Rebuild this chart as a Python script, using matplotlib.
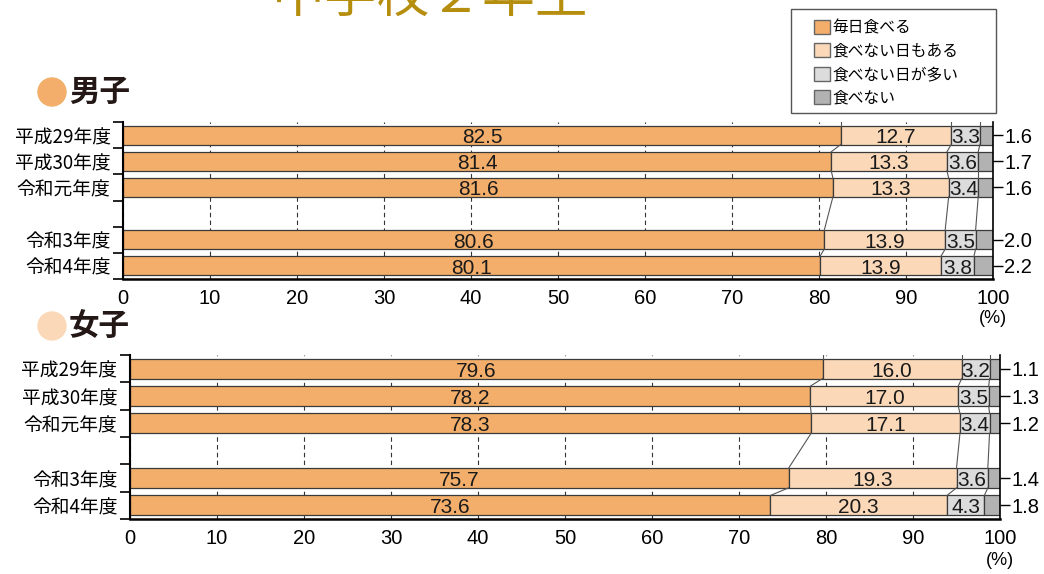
import matplotlib
matplotlib.use('Agg')
import matplotlib.pyplot as plt
from matplotlib.patches import Rectangle, Ellipse, Patch
import numpy as np

plt.rcParams['font.family'] = ['Noto Sans CJK JP', 'DejaVu Sans']

title = '中学校２年生'
years = ['平成29年度', '平成30年度', '令和元年度', '令和3年度', '令和4年度']
categories = ['毎日食べる', '食べない日もある', '食べない日が多い', '食べない']
colors = ['#F2AE6A', '#FAD8B8', '#DCDCDC', '#B2B2B2']

boys_everyday = [82.5, 81.4, 81.6, 80.6, 80.1]
boys_sometimes = [12.7, 13.3, 13.3, 13.9, 13.9]
boys_often = [3.3, 3.6, 3.4, 3.5, 3.8]
boys_never = [1.6, 1.7, 1.6, 2.0, 2.2]

girls_everyday = [79.6, 78.2, 78.3, 75.7, 73.6]
girls_sometimes = [16.0, 17.0, 17.1, 19.3, 20.3]
girls_often = [3.2, 3.5, 3.4, 3.6, 4.3]
girls_never = [1.1, 1.3, 1.2, 1.4, 1.8]

ypos = [0, 1, 2, 4, 5]   # slot 3 left empty
bar_h = 0.72
num_font = ['Liberation Sans Narrow', 'Liberation Sans', 'DejaVu Sans']
tick_font = ['Liberation Sans', 'DejaVu Sans']

fig = plt.figure(figsize=(10.44, 5.74), dpi=100)
W, H = 1044, 574


def draw_panel(rect, series):
    ax = fig.add_axes(rect)
    data = np.array(series)
    cum = np.zeros(len(years))
    bounds = []
    for k, vals in enumerate(data):
        widths = vals if k < 3 else 100 - cum
        ax.barh(ypos, widths, left=cum, height=bar_h, color=colors[k],
                edgecolor='#3a3a3a', linewidth=0.9, zorder=2)
        if k < 3:
            for y, l, w, v in zip(ypos, cum, widths, vals):
                ax.text(l + w / 2, y + 0.02, f'{v:.1f}', ha='center', va='center_baseline',
                        fontsize=15, family=num_font, color='#1a1a1a', zorder=4)
        cum = cum + vals
        if k < 3:
            bounds.append(cum.copy())
    # connector lines between consecutive bars
    for b in bounds:
        ax.plot([b[0], b[0]], [ypos[0] - bar_h / 2, -0.5], color='#555555', lw=0.8, zorder=3)
        for i in range(len(ypos) - 1):
            ax.plot([b[i], b[i + 1]], [ypos[i] + bar_h / 2, ypos[i + 1] - bar_h / 2],
                    color='#555555', lw=0.8, zorder=3)
    ax.set_xlim(0, 100)
    ax.set_ylim(5.5, -0.5)
    ax.set_xticks(range(0, 101, 10))
    ax.tick_params(axis='x', length=0, pad=7, labelsize=14.5)
    for t in ax.get_xticklabels():
        t.set_family(tick_font)
    ax.set_yticks(ypos)
    ax.set_yticklabels(years, fontsize=13.5)
    ax.set_yticks(np.arange(-0.5, 6, 1), minor=True)
    ax.tick_params(axis='y', which='major', length=0, pad=9)
    ax.tick_params(axis='y', which='minor', length=7, width=1.2, direction='out')
    ax.grid(axis='x', linestyle=(0, (4, 3)), color='#333333', lw=0.8, zorder=0)
    ax.set_axisbelow(True)
    ax.spines['top'].set_visible(False)
    ax.spines['left'].set_linewidth(1.5)
    ax.spines['bottom'].set_linewidth(1.8)
    ax.spines['right'].set_linewidth(1.2)
    ax2 = ax.twinx()
    ax2.set_ylim(ax.get_ylim())
    ax2.set_yticks(ypos)
    ax2.set_yticklabels([f'{v:.1f}' for v in data[3]], fontsize=14.5, family=tick_font)
    ax2.tick_params(axis='y', length=7, width=1.0, pad=1)
    for s in ax2.spines.values():
        s.set_visible(False)
    ax.text(1.0, -0.2, '(%)', transform=ax.transAxes, ha='center', va='top',
            fontsize=13, family=tick_font)
    return ax


ax_top = draw_panel([123 / W, 1 - 279 / H, 870 / W, 157 / H],
                    [boys_everyday, boys_sometimes, boys_often, boys_never])
ax_bot = draw_panel([130 / W, 1 - 519 / H, 870 / W, 164 / H],
                    [girls_everyday, girls_sometimes, girls_often, girls_never])

# section headers
for cy, col, label in [(92, '#F2AE6A', '男子'), (326, '#FAD8B8', '女子')]:
    fig.patches.append(Ellipse((52 / W, 1 - cy / H), 28 / W, 28 / H,
                               transform=fig.transFigure, color=col))
    fig.text(69 / W, 1 - cy / H, label, fontsize=22, fontweight='bold',
             color='#231815', va='center', ha='left')

# title (cut off at the top, as in the original)
fig.text(430 / W, 1 - 12 / H, title, fontsize=38, color='#B58E0E',
         ha='center', va='baseline')

# legend
fig.patches.append(Rectangle((791 / W, 1 - 113 / H), 205 / W, 104 / H,
                             transform=fig.transFigure, fill=False,
                             edgecolor='#555555', lw=1.0))
handles = [Patch(facecolor=c, edgecolor='#666666', lw=1.0) for c in colors]
fig.legend(handles, categories, loc='upper left',
           bbox_to_anchor=(803 / W, 1 - 8 / H), frameon=False, fontsize=11.3,
           handlelength=1.0, handleheight=1.0, handletextpad=0.2,
           labelspacing=0.42, borderpad=0.2)

fig.savefig('out.png', dpi=100)
